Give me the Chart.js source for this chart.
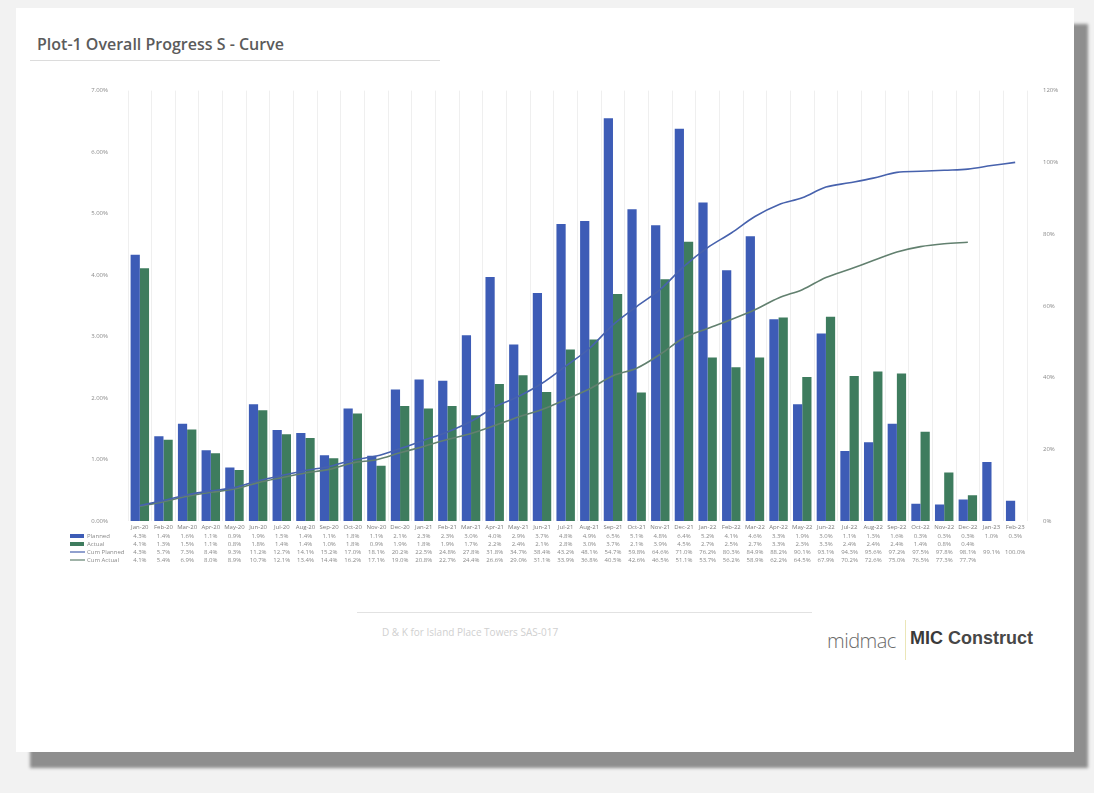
<!DOCTYPE html>
<html><head><meta charset="utf-8">
<script src="https://cdn.jsdelivr.net/npm/chart.js@4.4.1/dist/chart.umd.min.js"></script>
<style>
html,body{margin:0;padding:0;width:1094px;height:793px;background:#f2f2f2;overflow:hidden;font-family:'Open Sans',sans-serif;}
#slide{position:absolute;left:16px;top:8px;width:1058px;height:744px;background:#fff;box-shadow:14px 16px 3px #8e8e8e;}
#title{position:absolute;left:21px;top:25px;font-size:16px;font-weight:600;color:#5b5b5b;white-space:nowrap;}
#tline{position:absolute;left:14px;top:52px;width:410px;height:1px;background:#dcdcdc;}
#wrap{position:absolute;left:4px;top:67px;width:1055px;height:510px;}
#fline{position:absolute;left:341px;top:604px;width:455px;height:1px;background:#e2e2e2;}
#ftext{position:absolute;left:366px;top:617px;font-size:10px;color:#d0d0d0;white-space:nowrap;}
#midmac{position:absolute;left:811px;top:619px;font-size:20px;font-weight:300;color:#6a6a6a;letter-spacing:-0.5px;font-family:'Open Sans',sans-serif;}
#sep{position:absolute;left:889px;top:612px;width:1px;height:40px;background:#ebe6b8;}
#mic{position:absolute;left:894px;top:620px;font-size:18px;font-weight:700;color:#474747;white-space:nowrap;font-family:'Liberation Sans',Arial,sans-serif;}
#mic span{font-weight:700;color:#3a3a3a;}
</style></head>
<body>
<div id="slide">
  <div id="title">Plot-1 Overall Progress S - Curve</div>
  <div id="tline"></div>
  <div id="wrap"><canvas id="c" width="1055" height="510"></canvas></div>
  <div id="fline"></div>
  <div id="ftext">D &amp; K for Island Place Towers SAS-017</div>
  <div id="midmac">midmac</div>
  <div id="sep"></div>
  <div id="mic"><span>MIC</span> Construct</div>
</div>
<script>
const categories = ['Jan-20','Feb-20','Mar-20','Apr-20','May-20','Jun-20','Jul-20','Aug-20','Sep-20','Oct-20','Nov-20','Dec-20',
  'Jan-21','Feb-21','Mar-21','Apr-21','May-21','Jun-21','Jul-21','Aug-21','Sep-21','Oct-21','Nov-21','Dec-21',
  'Jan-22','Feb-22','Mar-22','Apr-22','May-22','Jun-22','Jul-22','Aug-22','Sep-22','Oct-22','Nov-22','Dec-22',
  'Jan-23','Feb-23'];
const planned = [4.33,1.38,1.58,1.15,0.87,1.90,1.48,1.43,1.07,1.83,1.06,2.14,
  2.30,2.28,3.02,3.97,2.87,3.71,4.83,4.88,6.55,5.07,4.81,6.38,
  5.18,4.08,4.63,3.28,1.90,3.05,1.14,1.28,1.58,0.28,0.27,0.35,
  0.96,0.33];
const actual = [4.11,1.32,1.49,1.10,0.83,1.80,1.41,1.35,1.02,1.75,0.90,1.87,
  1.83,1.87,1.72,2.23,2.37,2.10,2.79,2.95,3.69,2.09,3.93,4.54,
  2.66,2.50,2.66,3.31,2.34,3.32,2.36,2.43,2.40,1.45,0.79,0.42,
  null,null];
const cumPlanned = [4.3,5.7,7.3,8.4,9.3,11.2,12.7,14.1,15.2,17.0,18.1,20.2,
  22.5,24.8,27.8,31.8,34.7,38.4,43.2,48.1,54.7,59.8,64.6,71.0,
  76.2,80.3,84.9,88.2,90.1,93.1,94.3,95.6,97.2,97.5,97.8,98.1,
  99.1,100.0];
const cumActual = [4.1,5.4,6.9,8.0,8.9,10.7,12.1,13.4,14.4,16.2,17.1,19.0,
  20.8,22.7,24.4,26.6,29.0,31.1,33.9,36.8,40.5,42.6,46.5,51.1,
  53.7,56.2,58.9,62.2,64.5,67.9,70.2,72.6,75.0,76.5,77.3,77.7,
  null,null];
const leftTicks = [0,1,2,3,4,5,6,7];
const rightTicks = [0,20,40,60,80,100,120];

const C_PLAN = '#3d5cb6', C_ACT = '#3e7c5e', C_CPLAN = '#4762ad', C_CACT = '#62806f';

const tablePlugin = {
  id: 'dataTable',
  afterDraw(chart) {
    const ctx = chart.ctx, xs = chart.scales.x, b = chart.chartArea.bottom;
    const rows = [
      {name:'Planned', data:planned, kind:'bar', color:C_PLAN},
      {name:'Actual', data:actual, kind:'bar', color:C_ACT},
      {name:'Cum Planned', data:cumPlanned, kind:'line', color:C_CPLAN},
      {name:'Cum Actual', data:cumActual, kind:'line', color:C_CACT}
    ];
    ctx.save();
    ctx.font = '6px "Open Sans"';
    ctx.textBaseline = 'middle';
    rows.forEach((r, ri) => {
      const y = b + 15 + ri * 8;
      ctx.fillStyle = '#8a8a8a';
      ctx.textAlign = 'center';
      r.data.forEach((v, i) => {
        if (v == null) return;
        ctx.fillText(v.toFixed(1) + '%', xs.getPixelForValue(i), y);
      });
      if (r.kind === 'bar') {
        ctx.fillStyle = r.color;
        ctx.fillRect(50, y - 2, 14, 4);
      } else {
        ctx.strokeStyle = r.color;
        ctx.lineWidth = 1.2;
        ctx.beginPath(); ctx.moveTo(50, y); ctx.lineTo(65, y); ctx.stroke();
      }
      ctx.fillStyle = '#8a8a8a';
      ctx.textAlign = 'left';
      ctx.fillText(r.name, 67, y);
    });
    ctx.restore();
  }
};

new Chart(document.getElementById('c'), {
  data: {
    labels: categories,
    datasets: [
      {type:'bar', label:'Planned', data:planned, yAxisID:'y', backgroundColor:C_PLAN, order:2, categoryPercentage:0.78, barPercentage:1},
      {type:'bar', label:'Actual', data:actual, yAxisID:'y', backgroundColor:C_ACT, order:2, categoryPercentage:0.78, barPercentage:1},
      {type:'line', label:'Cum Planned', data:cumPlanned, yAxisID:'y1', borderColor:C_CPLAN, borderWidth:1.6, pointRadius:0, tension:0.35, order:0, fill:false},
      {type:'line', label:'Cum Actual', data:cumActual, yAxisID:'y1', borderColor:C_CACT, borderWidth:1.6, pointRadius:0, tension:0.35, order:0, fill:false, spanGaps:false}
    ]
  },
  options: {
    responsive:false, animation:false,
    layout:{padding:{top:15, left:0, right:0, bottom:0}},
    plugins:{legend:{display:false}, tooltip:{enabled:false}},
    scales:{
      x:{
        grid:{display:true, color:'#efefef', offset:true, drawTicks:false},
        border:{display:false},
        ticks:{font:{size:6, family:'Open Sans'}, color:'#7a7a7a', maxRotation:0, minRotation:0, autoSkip:false, padding:3},
        afterFit(s){ s.height = 64; }
      },
      y:{
        position:'left', min:0, max:7,
        afterBuildTicks(s){ s.ticks = leftTicks.map(v => ({value:v})); },
        ticks:{callback:v => Number(v).toFixed(2) + '%', font:{size:6, family:'Open Sans'}, color:'#8a8a8a', padding:12},
        grid:{display:false}, border:{display:false},
        afterFit(s){ s.width = 108; }
      },
      y1:{
        position:'right', min:0, max:120,
        afterBuildTicks(s){ s.ticks = rightTicks.map(v => ({value:v})); },
        ticks:{callback:v => v + '%', font:{size:6, family:'Open Sans'}, color:'#8a8a8a', padding:8},
        grid:{display:false}, border:{display:false},
        afterFit(s){ s.width = 48; }
      }
    }
  },
  plugins:[tablePlugin]
});
</script>
</body></html>
